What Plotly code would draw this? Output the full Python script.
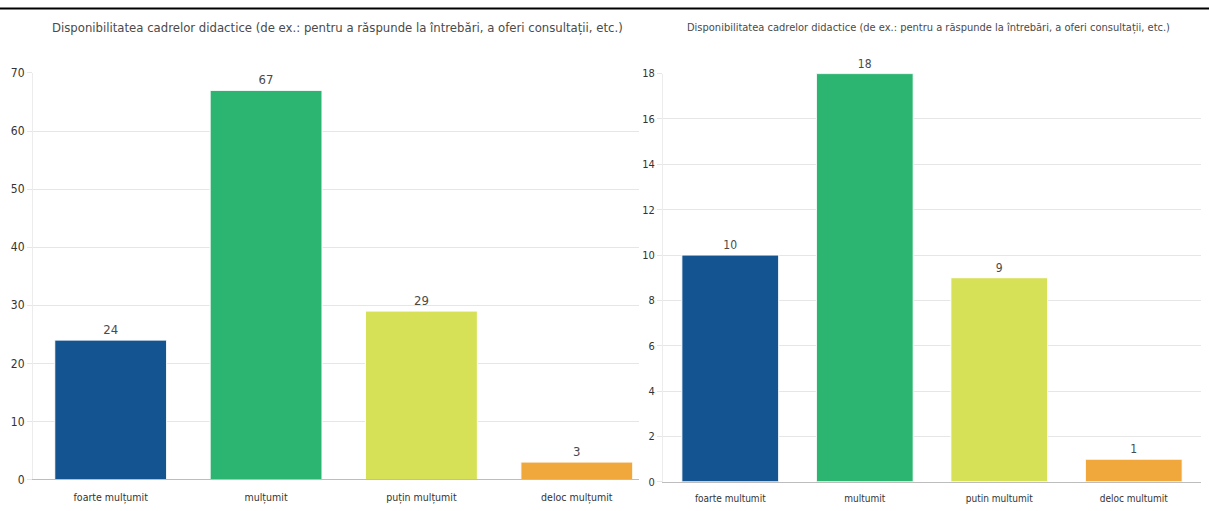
import plotly.graph_objects as go

title = 'Disponibilitatea cadrelor didactice (de ex.: pentru a răspunde la întrebări, a oferi consultații, etc.)'

categories_left = ['foarte mulțumit', 'mulțumit', 'puțin mulțumit', 'deloc mulțumit']
values_left = [24, 67, 29, 3]

categories_right = ['foarte multumit', 'multumit', 'putin multumit', 'deloc multumit']
values_right = [10, 18, 9, 1]

bar_colors = ['#145591', '#2cb570', '#d7e158', '#f0a83c']

FONT = 'DejaVu Sans Condensed, Liberation Sans Narrow, sans-serif'
TEXT = '#4a4a4a'

fig = go.Figure()

fig.add_trace(go.Bar(
    x=categories_left, y=values_left,
    marker=dict(color=bar_colors, line=dict(color='#FFFFFF', width=1)),
    text=values_left, textposition='outside', cliponaxis=False,
    textfont=dict(size=13, color=TEXT, family=FONT),
    xaxis='x', yaxis='y', showlegend=False,
))

fig.add_trace(go.Bar(
    x=categories_right, y=values_right,
    marker=dict(color=bar_colors, line=dict(color='#FFFFFF', width=1)),
    text=values_right, textposition='outside', cliponaxis=False,
    textfont=dict(size=12, color=TEXT, family=FONT),
    xaxis='x2', yaxis='y2', showlegend=False,
))

xcommon = dict(showgrid=False, showline=True, linecolor='#bdbdbd', linewidth=1,
               ticks='', fixedrange=True)
ycommon = dict(showgrid=True, gridcolor='#e6e6e6', gridwidth=1,
               showline=True, linecolor='#ececec', linewidth=1,
               ticks='outside', ticklen=5, tickcolor='#e6e6e6',
               zeroline=False)

## left chart is clipped on its right side
fig.update_layout(
    xaxis=dict(domain=[0.0273, 0.5285], range=[-0.5, 3.4], anchor='y',
               ticklabelstandoff=8,
               tickfont=dict(size=10.5, color='#333333', family=FONT), **xcommon),
    yaxis=dict(domain=[0.0493, 0.8673], range=[0, 70], dtick=10, anchor='x',
               tickfont=dict(size=12, color='#333333', family=FONT), **ycommon),
    xaxis2=dict(domain=[0.5484, 0.9934], range=[-0.5, 3.5], anchor='y2',
                ticklabelstandoff=7,
                tickfont=dict(size=10, color='#333333', family=FONT), **xcommon),
    yaxis2=dict(domain=[0.0446, 0.866], range=[0, 18], dtick=2, anchor='x2',
                tickfont=dict(size=11, color='#333333', family=FONT), **ycommon),
    bargap=0.28,
    plot_bgcolor='white', paper_bgcolor='white',
    autosize=False, width=1209, height=511,
    margin=dict(l=0, r=0, t=0, b=0),
    font=dict(family=FONT, color=TEXT),
)

fig.add_annotation(text=title, x=0.279, y=0.958, xref='paper', yref='paper',
                   xanchor='center', yanchor='middle', showarrow=False,
                   font=dict(size=13, color=TEXT, family=FONT))
fig.add_annotation(text=title, x=0.768, y=0.958, xref='paper', yref='paper',
                   xanchor='center', yanchor='middle', showarrow=False,
                   font=dict(size=11, color=TEXT, family=FONT))

## document border line at the top
fig.add_shape(type='line', xref='paper', yref='paper', x0=0, x1=1, y0=0.997, y1=0.997,
              line=dict(color='black', width=2))

page_js = ("document.documentElement.style.margin='0';"
           "document.documentElement.style.overflow='hidden';"
           "document.body.style.margin='0';document.body.style.padding='0';"
           "document.body.style.overflow='hidden';")

fig.write_html('out.html', config={'displayModeBar': False}, post_script=page_js)
